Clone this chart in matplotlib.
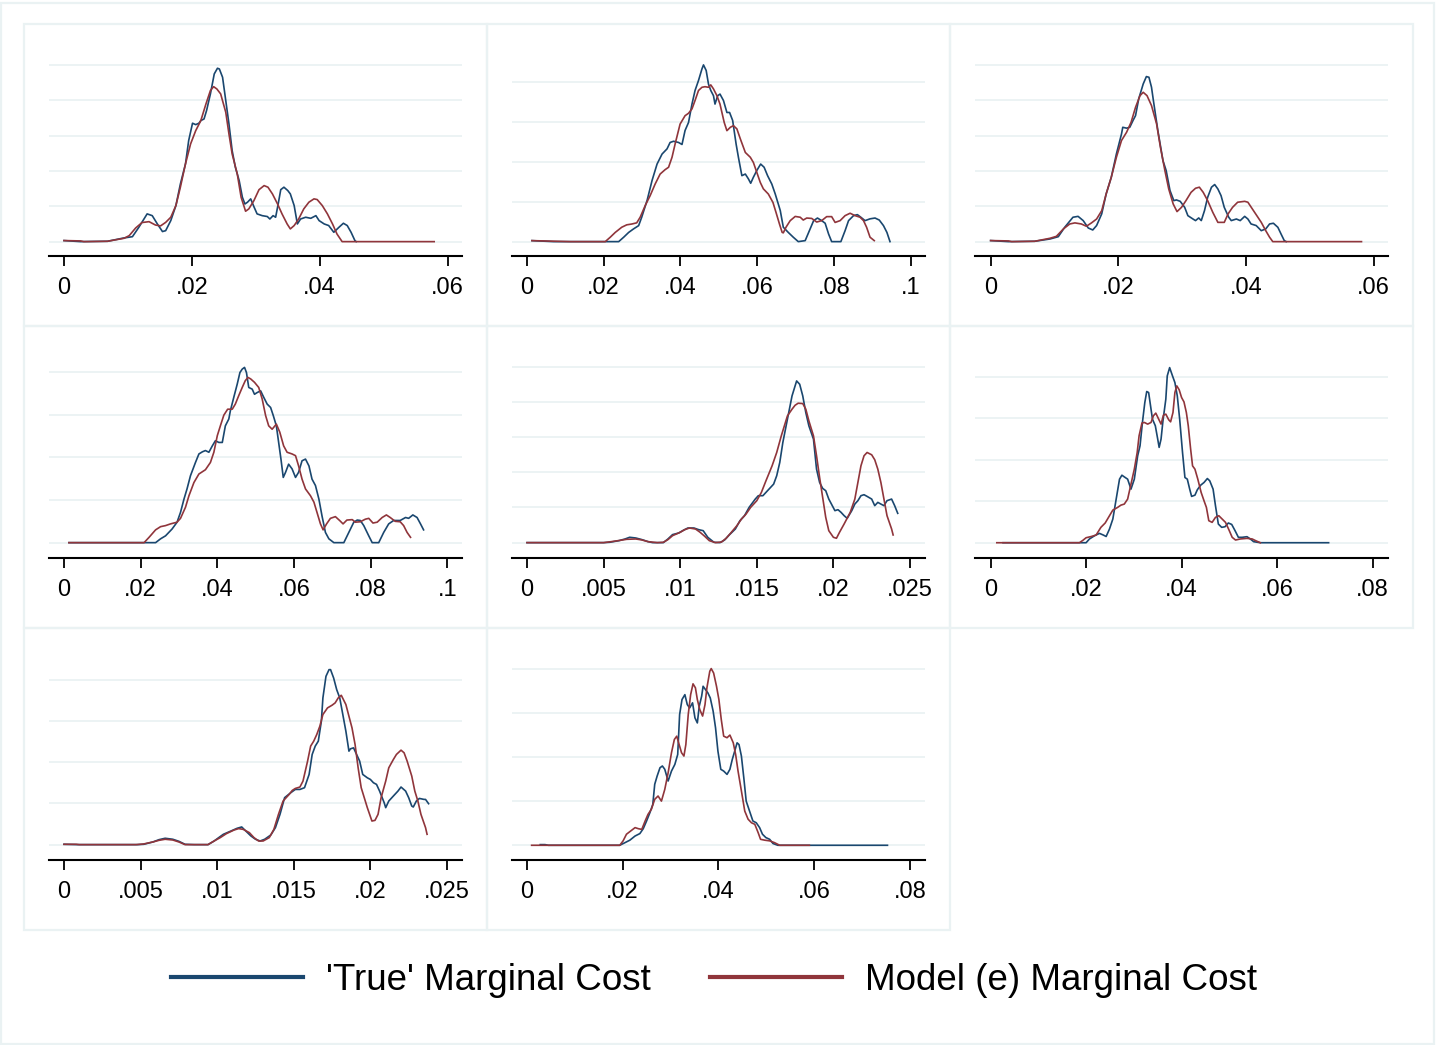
import matplotlib
matplotlib.use("Agg")
import matplotlib.pyplot as plt
from matplotlib.lines import Line2D
from matplotlib.patches import Rectangle

plt.rcParams['font.family'] = ['Liberation Sans', 'DejaVu Sans']

NAVY = '#1a476f'
MAROON = '#90353b'
GRID = '#eaf2f3'

# ---- data: kernel density estimates ----
# panel 1
p1_true_x = [0.0000, 0.0026, 0.0068, 0.0094, 0.0107, 0.0117, 0.0130, 0.0138, 0.0146, 0.0154, 0.0159, 0.0167,
             0.0175, 0.0182, 0.0190, 0.0195, 0.0201, 0.0206, 0.0211, 0.0214, 0.0219, 0.0223, 0.0229, 0.0235,
             0.0240, 0.0243, 0.0248, 0.0253, 0.0258, 0.0263, 0.0268, 0.0274, 0.0279, 0.0283, 0.0287, 0.0292,
             0.0297, 0.0302, 0.0310, 0.0318, 0.0322, 0.0327, 0.0331, 0.0335, 0.0339, 0.0344, 0.0350, 0.0354,
             0.0360, 0.0365, 0.0370, 0.0378, 0.0386, 0.0394, 0.0399, 0.0407, 0.0414, 0.0422, 0.0430, 0.0437,
             0.0443, 0.0449, 0.0455, 0.0457]
p1_true_y = [0.6, 0, 0.2, 2.1, 2.8, 8.1, 15.7, 14.7, 10.0, 5.7, 6.2, 11.9,
             20.4, 32.6, 44.0, 57.2, 67.0, 66.2, 67.0, 68.5, 69.4, 74.2, 83.6, 94.9,
             98.1, 97.7, 93.0, 79.8, 66.6, 51.5, 42.1, 34.5, 25.1, 21.3, 22.3, 24.2,
             19.8, 15.7, 14.7, 14.2, 12.8, 14.7, 13.8, 21.3, 29.4, 30.8, 28.9, 27.0,
             20.4, 10.0, 12.8, 13.8, 13.2, 14.7, 11.9, 10.0, 9.1, 5.3, 8.1, 10.4,
             9.1, 5.3, 0.6, 0]
p1_model_x = [0.0000, 0.0026, 0.0031, 0.0068, 0.0094, 0.0102, 0.0112, 0.0122, 0.0133, 0.0143, 0.0151, 0.0159,
              0.0167, 0.0175, 0.0182, 0.0190, 0.0198, 0.0206, 0.0214, 0.0222, 0.0229, 0.0234, 0.0239, 0.0245,
              0.0253, 0.0258, 0.0263, 0.0271, 0.0277, 0.0284, 0.0289, 0.0297, 0.0305, 0.0313, 0.0319, 0.0326,
              0.0334, 0.0341, 0.0349, 0.0354, 0.0360, 0.0367, 0.0375, 0.0383, 0.0391, 0.0396, 0.0404, 0.0412,
              0.0420, 0.0427, 0.0435, 0.0579]
p1_model_y = [0.6, 0.4, 0, 0.2, 1.9, 3.4, 7.7, 10.8, 11.3, 9.4, 8.9, 10.9,
              13.8, 20.4, 30.8, 44.0, 55.3, 62.8, 68.5, 77.9, 85.5, 87.7, 86.4, 83.6,
              73.2, 60.9, 49.6, 38.3, 25.1, 17.2, 18.5, 23.2, 29.4, 31.7, 30.8, 27.0,
              21.3, 15.7, 10.0, 7.2, 9.1, 12.8, 18.5, 22.3, 24.2, 23.8, 20.4, 15.7,
              10.0, 4.3, 0, 0]

# panel 2
p2_true_x = [0.0013, 0.0069, 0.0239, 0.0252, 0.0265, 0.0278, 0.0291, 0.0299, 0.0313, 0.0326, 0.0339, 0.0352,
             0.0365, 0.0373, 0.0382, 0.0395, 0.0404, 0.0412, 0.0421, 0.0430, 0.0438, 0.0447, 0.0456, 0.0460,
             0.0467, 0.0473, 0.0479, 0.0486, 0.0490, 0.0497, 0.0503, 0.0512, 0.0521, 0.0528, 0.0536, 0.0545,
             0.0551, 0.0560, 0.0569, 0.0577, 0.0583, 0.0590, 0.0599, 0.0609, 0.0618, 0.0627, 0.0638, 0.0647,
             0.0660, 0.0668, 0.0681, 0.0694, 0.0707, 0.0725, 0.0736, 0.0747, 0.0757, 0.0768, 0.0777, 0.0786,
             0.0794, 0.0818, 0.0829, 0.0838, 0.0851, 0.0861, 0.0870, 0.0881, 0.0894, 0.0907, 0.0918, 0.0929,
             0.0938, 0.0946]
p2_true_y = [0.25, 0, 0, 1.1, 2.3, 3.2, 4.0, 6.1, 10.3, 15.3, 19.4, 21.9,
             23.2, 24.8, 25.1, 24.8, 24.3, 27.8, 29.8, 34.4, 37.8, 40.3, 43.2, 44.2,
             42.8, 39.4, 37.8, 36.5, 34.4, 36.5, 36.9, 35.3, 32.3, 32.3, 30.3, 24.4,
             21.1, 16.5, 16.9, 15.7, 14.6, 16.1, 17.8, 19.4, 18.6, 16.5, 14.4, 11.9,
             7.8, 3.6, 2.3, 1.1, 0, 0.25, 2.75, 5.25, 5.9, 5.25, 4.6, 1.9,
             0, 0, 2.75, 5.25, 6.5, 6.75, 6.1, 5.25, 5.7, 5.9, 5.4, 4.0,
             2.3, 0]
p2_model_x = [0.0013, 0.0113, 0.0204, 0.0217, 0.0230, 0.0247, 0.0260, 0.0273, 0.0286, 0.0295, 0.0308, 0.0321,
              0.0334, 0.0347, 0.0360, 0.0369, 0.0378, 0.0386, 0.0399, 0.0412, 0.0421, 0.0430, 0.0438, 0.0447,
              0.0456, 0.0464, 0.0473, 0.0479, 0.0486, 0.0495, 0.0503, 0.0514, 0.0521, 0.0530, 0.0538, 0.0547,
              0.0556, 0.0569, 0.0582, 0.0590, 0.0599, 0.0608, 0.0616, 0.0629, 0.0641, 0.0649, 0.0658, 0.0665,
              0.0668, 0.0675, 0.0686, 0.0699, 0.0712, 0.0720, 0.0729, 0.0742, 0.0755, 0.0768, 0.0781, 0.0794,
              0.0803, 0.0816, 0.0829, 0.0842, 0.0855, 0.0868, 0.0877, 0.0885, 0.0894, 0.0905]
p2_model_y = [0.25, 0, 0, 1.1, 2.3, 3.6, 4.2, 4.4, 4.7, 6.1, 9.0, 11.5,
              14.4, 16.9, 18.0, 18.6, 21.1, 24.4, 29.4, 31.5, 32.1, 33.2, 35.3, 37.8,
              38.6, 38.75, 38.6, 39.2, 38.2, 36.5, 34.4, 29.8, 27.75, 28.6, 29.0, 28.2,
              25.7, 22.3, 21.1, 19.8, 17.3, 14.8, 13.2, 11.9, 9.8, 7.3, 4.4, 2.3,
              2.2, 3.6, 5.25, 6.3, 6.1, 5.4, 5.9, 5.8, 4.9, 5.25, 6.25, 6.25,
              4.8, 5.25, 6.5, 7.1, 6.5, 6.1, 5.25, 3.6, 1.1, 0.25]

# panel 3
p3_true_x = [0.0000, 0.0028, 0.0069, 0.0093, 0.0106, 0.0116, 0.0129, 0.0137, 0.0145, 0.0153, 0.0160, 0.0166,
             0.0174, 0.0181, 0.0189, 0.0197, 0.0205, 0.0207, 0.0213, 0.0218, 0.0223, 0.0227, 0.0232, 0.0239,
             0.0244, 0.0248, 0.0252, 0.0255, 0.0262, 0.0270, 0.0275, 0.0281, 0.0287, 0.0291, 0.0297, 0.0304,
             0.0309, 0.0317, 0.0321, 0.0326, 0.0330, 0.0335, 0.0340, 0.0346, 0.0351, 0.0356, 0.0361, 0.0366,
             0.0373, 0.0377, 0.0385, 0.0391, 0.0398, 0.0403, 0.0408, 0.0416, 0.0424, 0.0431, 0.0437, 0.0443,
             0.0450, 0.0455, 0.0460, 0.0463]
p3_true_y = [0.6, 0, 0.2, 1.5, 2.8, 8.1, 13.8, 14.3, 11.9, 7.7, 6.6, 9.1,
             15.7, 27.0, 36.4, 49.6, 60.9, 64.7, 64.2, 64.7, 68.5, 71.3, 80.8, 89.2,
             93.4, 93.0, 87.4, 79.8, 62.8, 45.8, 40.2, 28.9, 23.2, 23.6, 22.8, 19.4,
             14.7, 12.8, 11.9, 13.4, 11.9, 17.5, 25.1, 30.8, 32.3, 29.8, 26.0, 19.4,
             13.8, 11.9, 12.8, 11.9, 14.3, 12.8, 10.0, 9.1, 6.2, 7.2, 10.0, 10.4,
             8.1, 4.3, 0.6, 0]
p3_model_x = [0.0000, 0.0028, 0.0033, 0.0069, 0.0093, 0.0103, 0.0114, 0.0124, 0.0132, 0.0142, 0.0150, 0.0158,
              0.0166, 0.0174, 0.0181, 0.0189, 0.0197, 0.0205, 0.0213, 0.0220, 0.0227, 0.0234, 0.0239, 0.0245,
              0.0252, 0.0260, 0.0266, 0.0273, 0.0279, 0.0286, 0.0292, 0.0299, 0.0306, 0.0314, 0.0321, 0.0327,
              0.0333, 0.0340, 0.0348, 0.0356, 0.0366, 0.0372, 0.0379, 0.0387, 0.0398, 0.0403, 0.0410, 0.0417,
              0.0424, 0.0431, 0.0437, 0.0442, 0.0581]
p3_model_y = [0.6, 0.4, 0, 0.2, 1.9, 3.0, 7.2, 10.0, 10.6, 10.0, 8.7, 10.6,
              12.8, 17.5, 27.0, 36.4, 47.7, 57.2, 61.9, 67.5, 76.0, 82.6, 84.5, 82.6,
              77.0, 66.6, 53.4, 40.2, 29.8, 21.3, 17.0, 19.4, 23.2, 27.9, 30.2, 30.8,
              27.9, 23.2, 16.6, 10.9, 10.9, 15.7, 19.4, 22.3, 22.8, 22.3, 18.5, 14.7,
              10.9, 6.2, 2.5, 0, 0]

# panel 4
p4_true_x = [0.0013, 0.0239, 0.0252, 0.0265, 0.0282, 0.0295, 0.0304, 0.0313, 0.0321, 0.0330, 0.0343, 0.0352,
             0.0361, 0.0369, 0.0378, 0.0387, 0.0395, 0.0404, 0.0413, 0.0421, 0.0430, 0.0434, 0.0443, 0.0452,
             0.0459, 0.0465, 0.0471, 0.0476, 0.0482, 0.0491, 0.0497, 0.0504, 0.0513, 0.0521, 0.0530, 0.0539,
             0.0546, 0.0554, 0.0560, 0.0566, 0.0572, 0.0578, 0.0586, 0.0595, 0.0604, 0.0612, 0.0621, 0.0630,
             0.0639, 0.0647, 0.0656, 0.0665, 0.0673, 0.0682, 0.0691, 0.0704, 0.0730, 0.0743, 0.0756, 0.0765,
             0.0773, 0.0782, 0.0795, 0.0804, 0.0821, 0.0834, 0.0847, 0.0860, 0.0877, 0.0891, 0.0899, 0.0910,
             0.0921, 0.0930, 0.0938]
p4_true_y = [0, 0, 0.9, 1.6, 3.2, 4.8, 7.1, 10.2, 12.6, 15.7, 18.8, 20.8,
             21.3, 21.6, 21.2, 22.7, 23.9, 23.5, 23.5, 27.4, 29.0, 30.9, 34.1, 37.2,
             39.9, 40.7, 41.1, 39.9, 36.4, 36.0, 34.8, 35.2, 35.6, 34.1, 32.5, 31.7,
             29.8, 27.4, 23.5, 19.6, 15.3, 16.5, 18.4, 17.3, 15.3, 16.5, 19.2, 19.6,
             18.0, 14.9, 13.4, 10.2, 6.3, 2.4, 0.9, 0, 0, 2.4, 4.8, 5.3,
             5.2, 4.0, 1.6, 0, 0, 2.4, 4.4, 5.2, 5.2, 5.9, 5.7, 6.5,
             5.9, 4.4, 3.0]
p4_model_x = [0.0013, 0.0209, 0.0222, 0.0239, 0.0252, 0.0265, 0.0278, 0.0295, 0.0304, 0.0317, 0.0326, 0.0339,
              0.0352, 0.0369, 0.0382, 0.0391, 0.0400, 0.0408, 0.0417, 0.0427, 0.0439, 0.0447, 0.0456, 0.0465,
              0.0473, 0.0480, 0.0487, 0.0497, 0.0508, 0.0517, 0.0526, 0.0534, 0.0543, 0.0554, 0.0563, 0.0573,
              0.0582, 0.0595, 0.0604, 0.0612, 0.0621, 0.0630, 0.0643, 0.0652, 0.0660, 0.0669, 0.0676, 0.0685,
              0.0695, 0.0708, 0.0719, 0.0728, 0.0738, 0.0752, 0.0760, 0.0773, 0.0786, 0.0795, 0.0806, 0.0817,
              0.0830, 0.0841, 0.0851, 0.0864, 0.0877, 0.0886, 0.0895, 0.0904]
p4_model_y = [0, 0, 1.25, 3.0, 3.75, 4.0, 4.4, 4.8, 5.7, 8.3, 11.0, 14.1,
              16.1, 17.1, 18.8, 21.2, 25.1, 27.4, 29.9, 31.3, 31.3, 32.5, 34.5, 36.4,
              38.0, 38.75, 38.4, 37.6, 36.4, 33.7, 29.8, 27.4, 26.6, 27.8, 25.9, 22.7,
              21.2, 20.8, 20.4, 18.0, 14.9, 12.6, 11.0, 9.5, 7.1, 4.4, 3.0, 4.4,
              5.7, 6.1, 5.2, 4.4, 5.3, 5.4, 4.8, 4.9, 5.5, 5.7, 4.6, 4.8,
              5.9, 6.5, 5.9, 5.0, 4.9, 4.0, 2.4, 1.25]

# panel 5
p5_true_x = [0.0000, 0.0050, 0.0054, 0.0060, 0.0064, 0.0067, 0.0071, 0.0075, 0.0079, 0.0082, 0.0089, 0.0092,
             0.0095, 0.0099, 0.0102, 0.0105, 0.0109, 0.0112, 0.0115, 0.0118, 0.0122, 0.0126, 0.0129, 0.0132,
             0.0136, 0.0139, 0.0142, 0.0145, 0.0149, 0.0151, 0.0154, 0.0157, 0.0161, 0.0163, 0.0165, 0.0167,
             0.0170, 0.0173, 0.0175, 0.0176, 0.0178, 0.0180, 0.0182, 0.0184, 0.0187, 0.0189, 0.0191, 0.0193,
             0.0195, 0.0197, 0.0201, 0.0203, 0.0205, 0.0207, 0.0209, 0.0212, 0.0214, 0.0216, 0.0218, 0.0220,
             0.0222, 0.0225, 0.0227, 0.0229, 0.0231, 0.0233, 0.0235, 0.0238, 0.0240, 0.0242]
p5_true_y = [0, 0, 0.5, 2.8, 5.2, 7.6, 6.6, 4.3, 1.4, 0, 0, 5.2,
             11.4, 13.7, 17.5, 20.8, 20.8, 18.5, 17.0, 7.6, 0.5, 0, 3.8, 10.9,
             19.4, 31.2, 38.4, 50.2, 62.0, 66.8, 66.8, 73.9, 83.3, 95.2, 114.1, 142.5,
             175.7, 208.8, 223.0, 230.1, 225.4, 208.8, 185.1, 166.2, 147.3, 104.6, 85.7, 77.2,
             73.9, 62.0, 45.5, 46.9, 43.1, 38.4, 34.6, 45.5, 54.9, 59.7, 66.8, 68.2,
             65.8, 62.0, 52.6, 57.3, 54.9, 52.6, 59.7, 62.0, 52.6, 41.7]
p5_model_x = [0.0000, 0.0050, 0.0055, 0.0061, 0.0065, 0.0071, 0.0075, 0.0079, 0.0085, 0.0089, 0.0092, 0.0095,
              0.0100, 0.0103, 0.0106, 0.0110, 0.0113, 0.0116, 0.0119, 0.0123, 0.0127, 0.0130, 0.0133, 0.0137,
              0.0140, 0.0143, 0.0146, 0.0150, 0.0153, 0.0156, 0.0160, 0.0163, 0.0166, 0.0168, 0.0170, 0.0173,
              0.0175, 0.0177, 0.0180, 0.0182, 0.0184, 0.0187, 0.0189, 0.0191, 0.0193, 0.0195, 0.0197, 0.0200,
              0.0202, 0.0204, 0.0207, 0.0211, 0.0214, 0.0216, 0.0218, 0.0220, 0.0222, 0.0225, 0.0227, 0.0229,
              0.0231, 0.0233, 0.0235, 0.0238, 0.0239]
p5_model_y = [0, 0, 1.4, 3.3, 4.7, 5.2, 3.8, 1.4, 0, 0.5, 4.3, 9.9,
              14.7, 18.5, 20.8, 19.4, 14.7, 9.0, 2.8, 0, 0.9, 6.2, 13.7, 24.1,
              33.6, 40.7, 50.2, 59.7, 71.5, 88.1, 109.4, 128.3, 152.0, 166.2, 180.4, 189.9,
              195.5, 198.4, 197.9, 189.9, 173.3, 152.0, 123.6, 92.8, 64.4, 36.0, 17.0, 7.6,
              6.2, 14.7, 26.5, 43.1, 62.0, 85.7, 109.4, 123.6, 128.3, 125.0, 117.9, 104.6,
              85.7, 62.0, 38.4, 19.4, 10.9]

# panel 6
p6_true_x = [0.0026, 0.0200, 0.0207, 0.0218, 0.0228, 0.0236, 0.0242, 0.0249, 0.0256, 0.0263, 0.0270, 0.0275,
             0.0280, 0.0287, 0.0294, 0.0301, 0.0308, 0.0313, 0.0318, 0.0323, 0.0327, 0.0331, 0.0334, 0.0339,
             0.0345, 0.0350, 0.0353, 0.0357, 0.0361, 0.0367, 0.0370, 0.0375, 0.0381, 0.0386, 0.0391, 0.0396,
             0.0402, 0.0407, 0.0412, 0.0417, 0.0421, 0.0428, 0.0433, 0.0440, 0.0447, 0.0454, 0.0459, 0.0466,
             0.0471, 0.0477, 0.0484, 0.0491, 0.0498, 0.0505, 0.0512, 0.0519, 0.0527, 0.0537, 0.0544, 0.0551,
             0.0565, 0.0708]
p6_true_y = [0, 0, 1.8, 3.4, 4.5, 3.7, 3.0, 6.6, 11.4, 21.0, 30.6, 32.5,
             31.7, 30.6, 25.8, 30.6, 41.8, 46.7, 57.9, 67.5, 72.8, 72.3, 67.5, 59.5,
             56.3, 49.9, 45.9, 49.9, 58.7, 69.1, 80.3, 84.3, 80.3, 77.1, 70.7, 59.5,
             43.4, 31.4, 30.6, 25.8, 22.3, 22.9, 25.5, 27.7, 29.0, 30.9, 29.8, 25.8,
             17.8, 9.0, 7.4, 7.7, 9.5, 8.8, 5.8, 2.6, 2.6, 2.9, 1.8, 0.5,
             0, 0]
p6_model_x = [0.0013, 0.0186, 0.0193, 0.0200, 0.0211, 0.0221, 0.0231, 0.0240, 0.0249, 0.0256, 0.0266, 0.0273,
              0.0280, 0.0287, 0.0294, 0.0301, 0.0307, 0.0311, 0.0317, 0.0322, 0.0329, 0.0336, 0.0341, 0.0346,
              0.0352, 0.0357, 0.0362, 0.0367, 0.0373, 0.0377, 0.0382, 0.0386, 0.0390, 0.0395, 0.0400, 0.0405,
              0.0410, 0.0414, 0.0419, 0.0423, 0.0428, 0.0434, 0.0441, 0.0447, 0.0452, 0.0457, 0.0464, 0.0471,
              0.0478, 0.0485, 0.0492, 0.0499, 0.0506, 0.0513, 0.0523, 0.0537, 0.0548, 0.0555, 0.0565]
p6_model_y = [0, 0, 1.1, 2.4, 3.0, 3.7, 7.4, 9.5, 13.0, 15.7, 17.0, 18.1,
              18.6, 21.0, 28.2, 35.4, 43.4, 51.5, 57.6, 57.9, 57.1, 57.9, 61.1, 62.4,
              59.5, 57.1, 61.4, 61.9, 59.2, 58.2, 62.7, 72.3, 75.5, 73.6, 69.9, 67.8,
              62.7, 56.3, 45.0, 37.0, 35.4, 30.6, 24.2, 20.2, 17.0, 10.6, 9.8, 12.2,
              13.0, 11.4, 9.8, 6.3, 2.6, 1.3, 1.8, 2.1, 1.8, 1.0, 0]

# panel 7
p7_true_x = [0.0000, 0.0009, 0.0048, 0.0052, 0.0058, 0.0062, 0.0066, 0.0071, 0.0075, 0.0079, 0.0085, 0.0094,
             0.0098, 0.0101, 0.0104, 0.0109, 0.0113, 0.0116, 0.0118, 0.0122, 0.0125, 0.0128, 0.0131, 0.0135,
             0.0138, 0.0141, 0.0144, 0.0148, 0.0151, 0.0154, 0.0157, 0.0160, 0.0162, 0.0164, 0.0166, 0.0168,
             0.0169, 0.0171, 0.0173, 0.0174, 0.0176, 0.0178, 0.0180, 0.0182, 0.0184, 0.0186, 0.0187, 0.0189,
             0.0191, 0.0193, 0.0195, 0.0198, 0.0200, 0.0202, 0.0204, 0.0206, 0.0209, 0.0210, 0.0212, 0.0215,
             0.0218, 0.0220, 0.0223, 0.0225, 0.0227, 0.0228, 0.0230, 0.0232, 0.0235, 0.0236, 0.0238]
p7_true_y = [0.4, 0, 0, 0.4, 3.2, 6.0, 7.7, 6.5, 4.0, 0.4, 0, 0,
             4.4, 8.5, 12.5, 16.5, 19.8, 21.4, 17.7, 10.5, 6.5, 4.4, 6.5, 11.7,
             20.6, 36.7, 56.9, 62.9, 66.9, 66.9, 69.0, 85.1, 109.3, 119.4, 125.4, 149.6,
             177.8, 204.0, 212.1, 212.1, 202.0, 187.9, 177.8, 157.7, 137.5, 113.3, 116.1, 117.3,
             109.3, 101.2, 85.1, 81.0, 79.0, 75.0, 73.0, 64.9, 50.8, 44.8, 52.8, 58.9,
             64.9, 69.8, 64.9, 56.9, 46.8, 45.6, 52.8, 56.0, 54.8, 54.8, 49.6]
p7_model_x = [0.0000, 0.0008, 0.0010, 0.0047, 0.0052, 0.0058, 0.0062, 0.0066, 0.0071, 0.0075, 0.0079, 0.0085,
              0.0094, 0.0098, 0.0102, 0.0106, 0.0111, 0.0114, 0.0117, 0.0121, 0.0124, 0.0127, 0.0130, 0.0134,
              0.0137, 0.0140, 0.0143, 0.0147, 0.0149, 0.0151, 0.0154, 0.0156, 0.0159, 0.0161, 0.0163, 0.0165,
              0.0167, 0.0169, 0.0172, 0.0175, 0.0177, 0.0179, 0.0181, 0.0184, 0.0186, 0.0188, 0.0190, 0.0192,
              0.0194, 0.0198, 0.0201, 0.0203, 0.0205, 0.0207, 0.0210, 0.0212, 0.0215, 0.0217, 0.0220, 0.0222,
              0.0224, 0.0227, 0.0229, 0.0231, 0.0233, 0.0236, 0.0237]
p7_model_y = [0.4, 0.4, 0, 0, 0.8, 3.2, 5.2, 6.5, 5.6, 3.2, 0, 0,
              0, 4.4, 8.5, 13.3, 17.7, 19.4, 18.5, 14.5, 8.5, 4.4, 4.4, 8.5,
              18.5, 36.7, 52.8, 60.9, 65.7, 68.1, 69.8, 77.0, 101.2, 119.4, 125.4, 133.5,
              143.5, 157.7, 165.7, 169.0, 171.8, 177.8, 181.0, 169.8, 155.6, 141.5, 121.4, 93.1,
              69.0, 44.8, 28.6, 29.4, 36.7, 56.9, 77.0, 93.1, 103.2, 109.3, 114.5, 111.3,
              101.2, 83.1, 64.9, 52.8, 36.7, 20.6, 12.5]

# panel 8
p8_true_x = [0.0028, 0.0038, 0.0045, 0.0194, 0.0205, 0.0215, 0.0226, 0.0236, 0.0243, 0.0250, 0.0257, 0.0263,
             0.0267, 0.0272, 0.0278, 0.0283, 0.0288, 0.0295, 0.0302, 0.0309, 0.0315, 0.0319, 0.0324, 0.0330,
             0.0335, 0.0340, 0.0346, 0.0351, 0.0356, 0.0360, 0.0365, 0.0368, 0.0373, 0.0378, 0.0383, 0.0389,
             0.0394, 0.0399, 0.0405, 0.0411, 0.0418, 0.0424, 0.0429, 0.0434, 0.0439, 0.0443, 0.0448, 0.0453,
             0.0458, 0.0465, 0.0472, 0.0479, 0.0486, 0.0492, 0.0499, 0.0507, 0.0514, 0.0524, 0.0753]
p8_true_y = [0.3, 0.3, 0, 0, 1.2, 2.3, 4.2, 5.3, 7.5, 11.0, 14.8, 18.5,
             27.6, 31.3, 35.1, 35.9, 34.4, 29.1, 33.6, 36.6, 41.1, 59.2, 66.0, 68.2,
             63.7, 62.2, 64.5, 57.7, 55.4, 63.0, 67.5, 72.0, 70.5, 69.0, 66.7, 60.7,
             53.2, 42.6, 34.4, 33.6, 32.1, 34.4, 38.9, 42.6, 46.4, 45.6, 40.4, 30.6,
             20.0, 15.5, 11.0, 10.2, 8.0, 5.0, 3.5, 2.7, 0.8, 0, 0]
p8_model_x = [0.0010, 0.0194, 0.0201, 0.0208, 0.0217, 0.0226, 0.0233, 0.0240, 0.0247, 0.0253, 0.0260, 0.0267,
              0.0274, 0.0281, 0.0288, 0.0295, 0.0302, 0.0308, 0.0313, 0.0318, 0.0323, 0.0328, 0.0332, 0.0337,
              0.0342, 0.0347, 0.0352, 0.0356, 0.0361, 0.0367, 0.0372, 0.0376, 0.0382, 0.0385, 0.0390, 0.0396,
              0.0401, 0.0406, 0.0411, 0.0418, 0.0424, 0.0431, 0.0436, 0.0441, 0.0448, 0.0455, 0.0462, 0.0469,
              0.0476, 0.0483, 0.0488, 0.0497, 0.0507, 0.0517, 0.0528, 0.0590]
p8_model_y = [0, 0, 2.0, 5.0, 6.5, 8.0, 7.5, 7.2, 11.0, 14.0, 16.3, 20.8,
              22.3, 20.0, 25.3, 32.8, 41.9, 47.9, 49.4, 45.6, 41.9, 40.4, 45.6, 59.2,
              68.2, 73.1, 71.3, 66.0, 61.5, 58.5, 63.7, 71.3, 78.8, 80.0, 78.0, 72.0,
              66.0, 56.9, 49.4, 48.7, 49.9, 46.4, 41.1, 33.6, 24.6, 15.5, 11.8, 10.2,
              9.5, 5.7, 2.7, 2.3, 2.0, 1.2, 0, 0]

# x ticks / labels per panel
ticks_06 = [0, 0.02, 0.04, 0.06]
labels_06 = ['0', '.02', '.04', '.06']
ticks_1 = [0, 0.02, 0.04, 0.06, 0.08, 0.1]
labels_1 = ['0', '.02', '.04', '.06', '.08', '.1']
ticks_025 = [0, 0.005, 0.01, 0.015, 0.02, 0.025]
labels_025 = ['0', '.005', '.01', '.015', '.02', '.025']
ticks_08 = [0, 0.02, 0.04, 0.06, 0.08]
labels_08 = ['0', '.02', '.04', '.06', '.08']

panels = [
    (p1_true_x, p1_true_y, p1_model_x, p1_model_y, ticks_06, labels_06, (-0.00235, 0.0623), 20, (-8.3, 104.3)),
    (p2_true_x, p2_true_y, p2_model_x, p2_model_y, ticks_1, labels_1, (-0.0039, 0.1038), 10, (-3.67, 46.1)),
    (p3_true_x, p3_true_y, p3_model_x, p3_model_y, ticks_06, labels_06, (-0.00245, 0.0623), 20, (-8.3, 104.3)),
    (p4_true_x, p4_true_y, p4_model_x, p4_model_y, ticks_1, labels_1, (-0.0039, 0.1039), 10, (-3.67, 43.0)),
    (p5_true_x, p5_true_y, p5_model_x, p5_model_y, ticks_025, labels_025, (-0.00098, 0.0260), 50, (-22.3, 260.9)),
    (p6_true_x, p6_true_y, p6_model_x, p6_model_y, ticks_08, labels_08, (-0.00327, 0.0833), 20, (-7.5, 88.3)),
    (p7_true_x, p7_true_y, p7_model_x, p7_model_y, ticks_025, labels_025, (-0.00098, 0.0260), 50, (-19.0, 222.2)),
    (p8_true_x, p8_true_y, p8_model_x, p8_model_y, ticks_08, labels_08, (-0.0031, 0.0832), 20, (-6.8, 83.3)),
]

W, H = 1438, 1045
fig = plt.figure(figsize=(W / 100, H / 100), dpi=100)
fig.patch.set_facecolor('white')

# outer frame
fig.patches.append(Rectangle((1 / W, 1 / H), (W - 5) / W, (H - 4) / H, transform=fig.transFigure,
                             fill=False, edgecolor=GRID, linewidth=1.6))

cell_x = [24, 487, 950]
cell_y = [24, 326, 628]
cw, ch = 463, 302

for i, (tx, ty, mx, my, ticks, labels, xlim, step, ylim) in enumerate(panels):
    cx = cell_x[i % 3]
    cy = cell_y[i // 3]
    # panel border
    fig.patches.append(Rectangle((cx / W, 1 - (cy + ch) / H), cw / W, ch / H, transform=fig.transFigure,
                                 fill=False, edgecolor=GRID, linewidth=1.6))
    ax = fig.add_axes([(cx + 25) / W, 1 - (cy + 232.3) / H, 413.3 / W, 199 / H])
    ax.set_facecolor('none')
    ax.plot(tx, ty, color=NAVY, lw=1.2, zorder=3)
    ax.plot(mx, my, color=MAROON, lw=1.2, zorder=4)
    ax.set_xlim(*xlim)
    ax.set_ylim(*ylim)
    ax.set_yticks([k * step for k in range(int(ylim[1] // step) + 1)])
    ax.yaxis.grid(True, color=GRID, lw=1.3)
    ax.set_axisbelow(True)
    ax.tick_params(axis='y', left=False, labelleft=False)
    ax.set_xticks(ticks)
    ax.set_xticklabels(labels, fontsize=17)
    ax.tick_params(axis='x', length=7, width=1.3, pad=8, colors='black')
    for s in ['top', 'right', 'left']:
        ax.spines[s].set_visible(False)
    ax.spines['bottom'].set_linewidth(1.5)

handles = [Line2D([], [], color=NAVY, lw=3), Line2D([], [], color=MAROON, lw=3)]
fig.legend(handles, ["'True' Marginal Cost", "Model (e) Marginal Cost"],
           loc='center', bbox_to_anchor=(714 / W, 1 - 980 / H), ncol=2, frameon=False,
           fontsize=26.5, handlelength=3.6, handletextpad=0.62, columnspacing=1.6)

fig.savefig('out.png', dpi=100, facecolor='white')
